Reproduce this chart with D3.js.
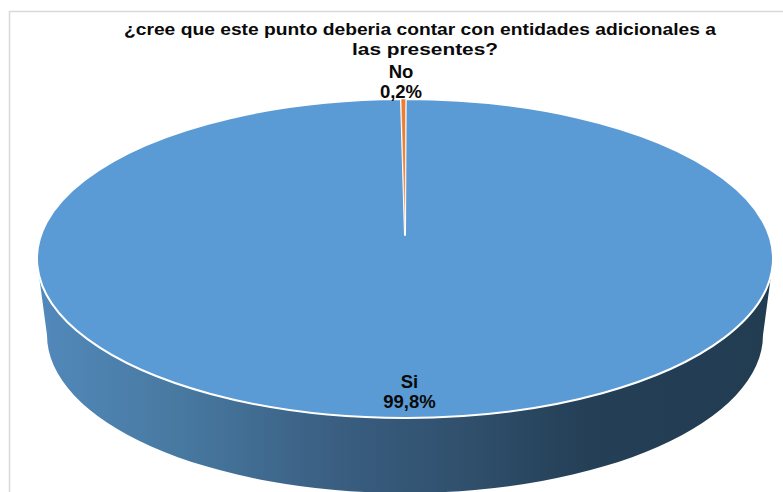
<!DOCTYPE html>
<html><head><meta charset="utf-8">
<script src="https://cdn.jsdelivr.net/npm/d3@7/dist/d3.min.js"></script>
<style>html,body{margin:0;padding:0;background:#fff}svg{display:block}text{font-family:"Liberation Sans",Arial,sans-serif;font-weight:bold;fill:#0a0a0a}</style>
</head><body><svg id="c" width="783" height="492"></svg>
<script>
const categories = ["Si", "No"];
const values = [99.8, 0.2];
const valueLabels = ["99,8%", "0,2%"];
const colors = ["#5b9bd5", "#ed7d31"];
const titleLines = ["¿cree que este punto deberia contar con entidades adicionales a", "las presentes?"];

const svg = d3.select("#c");
const W = 783, H = 492;
const face = {cx: 405, cy: 258.5, rx: 368, ry: 159.5, apexY: 235};
const low = {cx: 405, cy: 335, rx: 358, ry: 158};
const startDeg = 0.1;

svg.append("path").attr("d", `M9.5 ${H}V11.5H${W}`).attr("fill", "none").attr("stroke", "#d9d9d9").attr("stroke-width", 1.5);

const defs = svg.append("defs");
const g = defs.append("linearGradient").attr("id", "side").attr("gradientUnits", "userSpaceOnUse")
  .attr("x1", 38).attr("x2", 772).attr("y1", 0).attr("y2", 0);
[[0, "#5289bb"], [0.2, "#47789f"], [0.4, "#3a5f82"], [0.6, "#2f4e6a"], [0.75, "#243f56"], [1, "#223c52"]]
  .forEach(([o, c]) => g.append("stop").attr("offset", o).attr("stop-color", c));

const side = `M${face.cx - 366} ${face.cy + 17}L${low.cx - low.rx} ${low.cy}`
  + `A${low.rx} ${low.ry} 0 0 0 ${low.cx + low.rx} ${low.cy}`
  + `L${face.cx + 366} ${face.cy + 17}Z`;
svg.append("path").attr("d", side).attr("fill", "url(#side)");

const pie = d3.pie().sort(null).startAngle(startDeg * Math.PI / 180).endAngle(2 * Math.PI + startDeg * Math.PI / 180);
const arcs = pie(values);
const px = a => face.cx + face.rx * Math.sin(a);
const py = a => face.cy - face.ry * Math.cos(a);
svg.selectAll("path.slice").data(arcs).join("path").attr("class", "slice")
  .attr("fill", (d, i) => colors[i])
  .attr("stroke", "#fff").attr("stroke-width", (d, i) => i === 0 ? 2 : 0.5).attr("stroke-linejoin", "round")
  .attr("d", d => {
    const large = d.endAngle - d.startAngle > Math.PI ? 1 : 0;
    return `M${face.cx} ${face.apexY}L${px(d.startAngle)} ${py(d.startAngle)}`
      + `A${face.rx} ${face.ry} 0 ${large} 1 ${px(d.endAngle)} ${py(d.endAngle)}Z`;
  });

const title = svg.append("text").attr("font-size", 17).attr("text-anchor", "start");
title.append("tspan").attr("x", 124).attr("y", 35).attr("textLength", 592).attr("lengthAdjust", "spacingAndGlyphs").text(titleLines[0]);
title.append("tspan").attr("x", 352).attr("y", 55).attr("textLength", 146).attr("lengthAdjust", "spacingAndGlyphs").text(titleLines[1]);

const labelPos = [{x: 409.5, y1: 388, y2: 408}, {x: 401, y1: 78, y2: 98}];
categories.forEach((c, i) => {
  const t = svg.append("text").attr("font-size", 18.5).attr("text-anchor", "middle");
  t.append("tspan").attr("x", labelPos[i].x).attr("y", labelPos[i].y1).text(c);
  t.append("tspan").attr("x", labelPos[i].x).attr("y", labelPos[i].y2).text(valueLabels[i]);
});
</script></body></html>
